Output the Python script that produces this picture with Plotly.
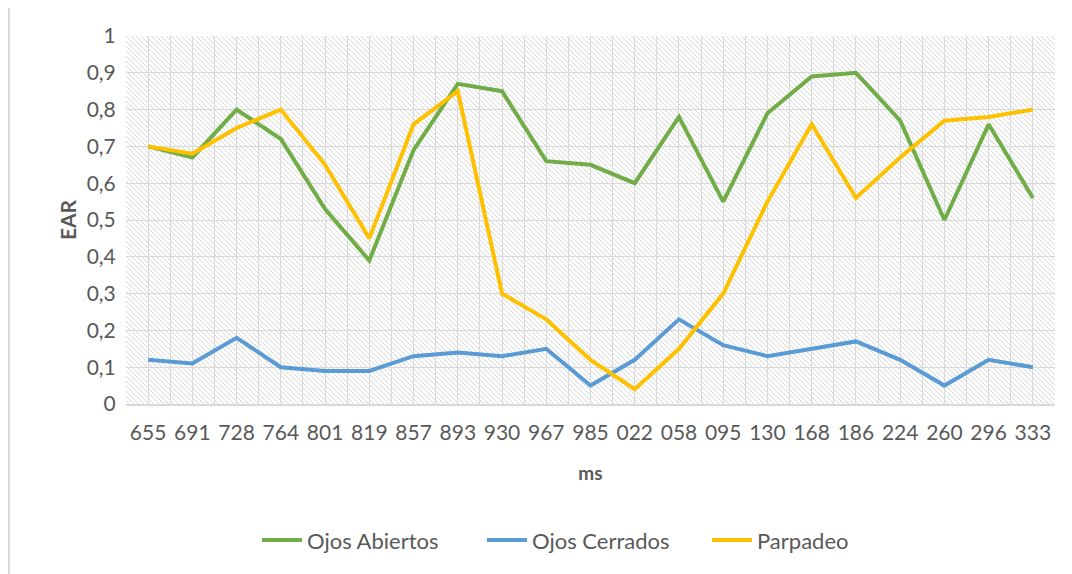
import base64
import plotly.graph_objects as go

# ---- data ----
ms_labels = ["655", "691", "728", "764", "801", "819", "857", "893", "930", "967", "985",
             "022", "058", "095", "130", "168", "186", "224", "260", "296", "333"]
ojos_abiertos = [0.70, 0.67, 0.80, 0.72, 0.53, 0.39, 0.69, 0.87, 0.85, 0.66, 0.65,
                 0.60, 0.78, 0.55, 0.79, 0.89, 0.90, 0.77, 0.50, 0.76, 0.56]
ojos_cerrados = [0.12, 0.11, 0.18, 0.10, 0.09, 0.09, 0.13, 0.14, 0.13, 0.15, 0.05,
                 0.12, 0.23, 0.16, 0.13, 0.15, 0.17, 0.12, 0.05, 0.12, 0.10]
parpadeo = [0.70, 0.68, 0.75, 0.80, 0.65, 0.45, 0.76, 0.85, 0.30, 0.23, 0.12,
            0.04, 0.15, 0.30, 0.55, 0.76, 0.56, 0.67, 0.77, 0.78, 0.80]
series = [("Ojos Abiertos", ojos_abiertos, "#70AD47"),
          ("Ojos Cerrados", ojos_cerrados, "#5B9BD5"),
          ("Parpadeo", parpadeo, "#FFC000")]
y_ticks = [i / 10 for i in range(11)]

W, H = 1072, 574
OFF = 8  # page body margin offset
PW, PH = 929, 368
ML, MT = 126 - OFF, 36 - OFF
MR, MB = W - ML - PW, H - MT - PH

FONT = "Lato"
GREY = "#595959"

x_idx = list(range(len(ms_labels)))

fig = go.Figure()
for name, vals, col in series:
    fig.add_trace(go.Scatter(x=x_idx, y=vals, name=name, mode="lines",
                             line=dict(color=col, width=4)))

# hatch background pattern for plot area
svg = (f'<svg xmlns="http://www.w3.org/2000/svg" width="{PW}" height="{PH}">'
       '<defs><pattern id="p" width="5" height="5" patternUnits="userSpaceOnUse">'
       '<path d="M-1,-1 L6,6 M-1,4 L1,6 M4,-1 L6,1" stroke="#d8d8d8" stroke-width="1"/>'
       '</pattern></defs><rect width="100%" height="100%" fill="url(#p)"/></svg>')
src = "data:image/svg+xml;base64," + base64.b64encode(svg.encode()).decode()

fig.update_layout(
    width=W, height=H,
    margin=dict(l=ML, r=MR, t=MT, b=MB, autoexpand=False),
    paper_bgcolor="white", plot_bgcolor="white",
    separators=",.",
    font=dict(family=FONT, color=GREY, size=21),
    images=[dict(source=src, xref="paper", yref="paper", x=0, y=1, sizex=1, sizey=1,
                 xanchor="left", yanchor="top", sizing="stretch", layer="below")],
    legend=dict(orientation="h", x=(262 - 5 - 126) / PW, xanchor="left",
                y=-0.37, yanchor="middle",
                font=dict(size=22, color=GREY), itemwidth=40, traceorder="normal",
                entrywidth=170, entrywidthmode="pixels"),
    shapes=[dict(type="rect", xref="paper", yref="paper",
                 x0=(9 - 126) / PW, x1=1.2, y0=-0.8, y1=1 + (36 - 6) / PH,
                 line=dict(color="#d9d9d9", width=2), fillcolor="rgba(0,0,0,0)",
                 layer="below")],
)

fig.update_xaxes(
    automargin=False,
    range=[-0.5, len(ms_labels) - 0.5],
    tickmode="array", tickvals=x_idx, ticktext=ms_labels,
    showgrid=True, gridcolor="#d9d9d9", gridwidth=1,
    minor=dict(dtick=0.5, tick0=-0.5, showgrid=True, gridcolor="#d9d9d9", gridwidth=1),
    showline=True, linecolor="#d9d9d9", linewidth=2,
    ticks="outside", ticklen=9, tickcolor="rgba(0,0,0,0)",
    zeroline=False,
    tickfont=dict(size=21, color=GREY),
    title=dict(text="<b>ms</b>", font=dict(size=19, color=GREY), standoff=23),
)
fig.update_yaxes(
    automargin=False,
    range=[0, 1], tickmode="array", tickvals=y_ticks,
    showgrid=True, gridcolor="#d9d9d9", gridwidth=1,
    zeroline=False, showline=False,
    ticks="outside", ticklen=5, tickcolor="rgba(0,0,0,0)",
    tickfont=dict(size=21, color=GREY),
    title=dict(text="<b>EAR</b>", font=dict(size=21, color=GREY), standoff=4),
)

fig.write_html("out.html")
